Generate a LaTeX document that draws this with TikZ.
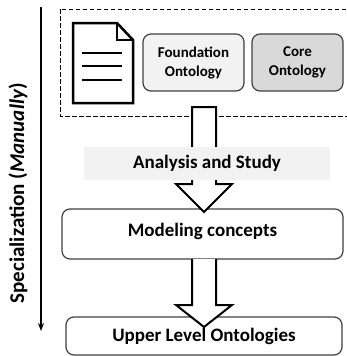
\documentclass[tikz,border=0pt]{standalone}
\usepackage{fontspec}
\setmainfont{Carlito}
\usetikzlibrary{arrows.meta}
\definecolor{boxline}{HTML}{404040}
\definecolor{lightfill}{HTML}{F2F2F2}
\definecolor{corefill}{HTML}{D9D9D9}
\definecolor{bandfill}{HTML}{F2F2F2}
\begin{document}
\begin{tikzpicture}[x=1pt,y=-1pt,
  rbox/.style={draw=boxline, line width=1.2pt, rounded corners=8pt, align=center, inner sep=0pt, font=\bfseries\fontsize{19}{21}\selectfont},
  sbox/.style={draw=boxline, line width=1.2pt, rounded corners=8pt, align=center, inner sep=0pt, font=\bfseries\fontsize{15}{19}\selectfont},
  hollow/.style={draw=black, fill=white, line width=2pt, line join=miter},
  docline/.style={line width=2.5pt}
]
\useasboundingbox (0,0) rectangle (347,356);
\clip (0,0) rectangle (347,356);
% dashed container
\draw[dashed, dash pattern=on 4.5pt off 2.5pt, line width=1pt] (60,9) rectangle (355,116);
% document icon
\draw[line width=2.5pt, line join=miter] (73,23) -- (117,23) -- (133,40) -- (133,103) -- (73,103) -- cycle;
\draw[line width=2pt] (117,23) -- (117,40) -- (133,40);
\draw[docline] (82,53) -- (122,53);
\draw[docline] (82,66) -- (122,66);
\draw[docline] (82,80) -- (122,80);
% ontology boxes
\node[sbox, fill=lightfill, minimum width=101pt, minimum height=57pt] (found) at (193.5,62.5) {Foundation\\Ontology};
\node[sbox, fill=corefill, minimum width=91pt, minimum height=57pt] (core) at (297.5,62.5) {Core\\Ontology};
% lower boxes
\node[rbox, fill=white, minimum width=281pt, minimum height=50pt] (model) at (202.5,234) {};
\node[font=\bfseries\fontsize{19}{21}\selectfont] (modeltext) at (202.5,231) {Modeling concepts};
\node[rbox, fill=white, minimum width=276pt, minimum height=38pt] (upper) at (204,336) {Upper Level Ontologies};
% hollow arrow 1
\filldraw[hollow] (192,107) -- (216,107) -- (216,184) -- (232,184) -- (204,212) -- (176,184) -- (192,184) -- cycle;
% analysis band
\node[fill=bandfill, minimum width=246pt, minimum height=33pt, inner sep=0pt, font=\bfseries\fontsize{19}{21}\selectfont] (analysis) at (207,163) {Analysis and Study};
% hollow arrow 2
\fill[white] (192,259) -- (192,305) -- (176,305) -- (204,327) -- (232,305) -- (216,305) -- (216,259) -- cycle;
\draw[line width=2pt, line join=miter] (192,259) -- (192,305) -- (176,305) -- (204,327) -- (232,305) -- (216,305) -- (216,259);
% specialization axis
\coordinate (axtop) at (41,7);
\coordinate (axbot) at (41,331);
\draw[line width=1.3pt, -{Stealth[length=8pt,width=6pt]}] (axtop) -- (axbot);
\node[rotate=90, font=\bfseries\fontsize{21}{23}\selectfont] (spec) at (18,193) {Specialization (\textit{Manually})};
\end{tikzpicture}
\end{document}
